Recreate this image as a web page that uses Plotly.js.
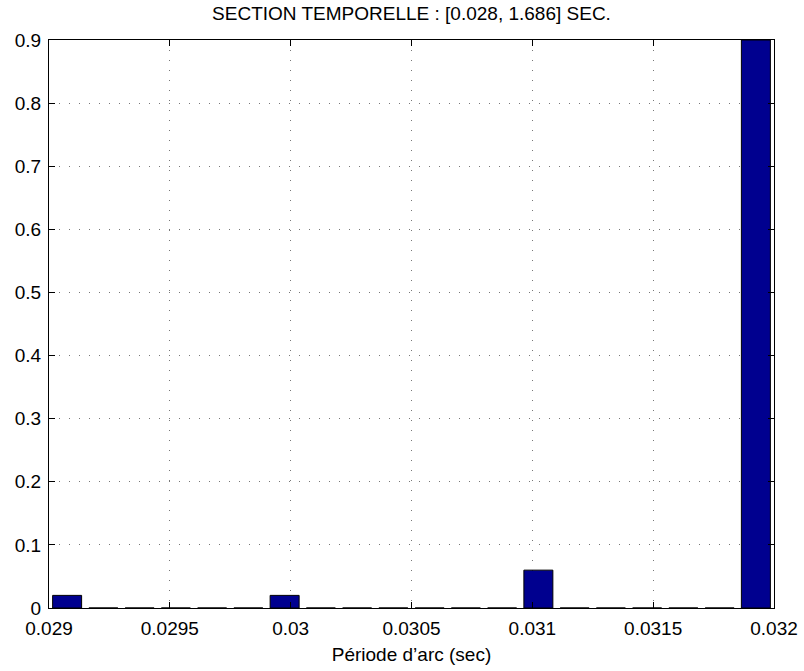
<!DOCTYPE html>
<html>
<head>
<meta charset="utf-8">
<script src="https://cdn.plot.ly/plotly-3.0.1.min.js"></script>
<style>html,body{margin:0;padding:0;background:#fff;}#chart{width:804px;height:671px;}</style>
</head>
<body>
<div id="chart"></div>
<script>
// Histogram bin centres (sec) and relative frequencies
var binCenters = [0.029075, 0.029225, 0.029375, 0.029525, 0.029675, 0.029825, 0.029975,
                  0.030125, 0.030275, 0.030425, 0.030575, 0.030725, 0.030875, 0.031025,
                  0.031175, 0.031325, 0.031475, 0.031625, 0.031775, 0.031925];
var frequencies = [0.02, 0, 0, 0, 0, 0, 0.02,
                   0, 0, 0, 0, 0, 0, 0.06,
                   0, 0, 0, 0, 0, 0.9];
var xTickVals = [0.029, 0.0295, 0.03, 0.0305, 0.031, 0.0315, 0.032];
var xTickText = ["0.029", "0.0295", "0.03", "0.0305", "0.031", "0.0315", "0.032"];
var yTickVals = [0, 0.1, 0.2, 0.3, 0.4, 0.5, 0.6, 0.7, 0.8, 0.9];
var yTickText = ["0", "0.1", "0.2", "0.3", "0.4", "0.5", "0.6", "0.7", "0.8", "0.9"];
var titleText = "SECTION TEMPORELLE : [0.028, 1.686] SEC.";
var xLabel = "Période d’arc (sec)";

var FONT = "Liberation Sans, Arial, Helvetica, sans-serif";
var FS = 19;

var trace = {
  type: "bar",
  x: binCenters,
  y: frequencies,
  width: 0.00012,
  marker: {color: "#00008F", line: {color: "#000000", width: 1}},
  hoverinfo: "x+y"
};

var axisCommon = {
  showline: true, linecolor: "#000", linewidth: 1, mirror: "ticks",
  ticks: "inside", ticklen: 6, tickcolor: "#000", tickwidth: 1,
  showgrid: true, gridcolor: "#777", gridwidth: 1, griddash: "1px,9px",
  zeroline: false, tickfont: {family: FONT, size: FS, color: "#000"},
  tickmode: "array", fixedrange: true
};

var layout = {
  width: 804, height: 671,
  margin: {l: 49, r: 30, t: 40, b: 63},
  paper_bgcolor: "#fff", plot_bgcolor: "#fff",
  showlegend: false,
  bargap: 0,
  title: {text: titleText, font: {family: FONT, size: FS, color: "#000"},
          x: 0.5, xref: "paper", xanchor: "center", y: 1 - 13/671, yref: "container", yanchor: "middle"},
  xaxis: Object.assign({}, axisCommon, {
    range: [0.029, 0.032], tickvals: xTickVals, ticktext: xTickText,
    ticklabelstandoff: 3,
    title: {text: xLabel, font: {family: FONT, size: FS, color: "#000"}, standoff: 9}
  }),
  yaxis: Object.assign({}, axisCommon, {
    range: [0, 0.9], tickvals: yTickVals, ticktext: yTickText,
    ticklabelstandoff: 3
  })
};

Plotly.newPlot("chart", [trace], layout, {displayModeBar: false, staticPlot: true});
</script>
</body>
</html>
